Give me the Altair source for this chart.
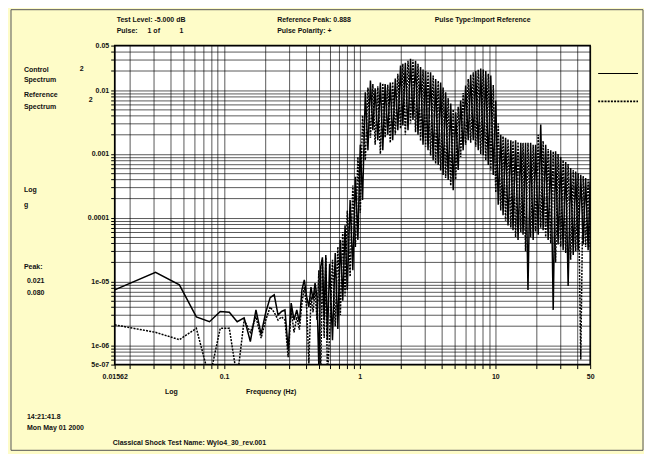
import altair as alt
import pandas as pd

# ---------------- data ----------------
freq_low = [0.015625, 0.03125, 0.046875, 0.0625, 0.078125, 0.09375, 0.109375, 0.125,
            0.140625, 0.15625, 0.171875, 0.1875, 0.203125, 0.21875, 0.234375, 0.25,
            0.265625, 0.28125, 0.296875, 0.3125, 0.328125, 0.34375, 0.359375, 0.375,
            0.390625, 0.40625, 0.421875, 0.4375, 0.453125, 0.46875, 0.484375, 0.5,
            0.515625, 0.53125, 0.546875, 0.5625, 0.578125]
control_low = [7.4e-6, 1.4e-5, 8.9e-6, 2.8e-6, 2.35e-6, 3.4e-6, 3.3e-6, 2.35e-6,
               2.7e-6, 1.15e-6, 3.6e-6, 1.5e-6, 3.3e-6, 5.6e-6, 6.2e-6, 3.0e-6,
               3.4e-6, 3.6e-6, 8.6e-7, 4.6e-6, 2.5e-6, 3.6e-6, 2.3e-6, 7.4e-6,
               1.06e-5, 5.8e-6, 4.0e-6, 8.2e-6, 5.2e-6, 9.5e-6, 5.8e-6, 4.5e-7,
               1.7e-5, 2.4e-5, 2.5e-6, 2.6e-5, 1.2e-6]
reference_low = [2.1e-6, 1.6e-6, 1.23e-6, 1.85e-6, 3e-7, 1.85e-6, 1.85e-6, 3e-7,
                 2.5e-6, 1.6e-6, 2.8e-6, 1.3e-6, 2.5e-6, 4.0e-6, 3.3e-6, 2.5e-6,
                 2.8e-6, 2.5e-6, 6.5e-7, 3.6e-6, 1.6e-6, 2.8e-6, 1.76e-6, 4.6e-6,
                 8.2e-6, 4.0e-6, 5.2e-7, 5.8e-6, 3.3e-6, 7.4e-6, 2.5e-6, 1.5e-5,
                 3e-7, 2.2e-5, 1.3e-6, 2.4e-5, 3e-7]

freq_high = [0.60, 0.63, 0.66, 0.69, 0.72, 0.75, 0.78, 0.81, 0.85, 0.89, 0.93, 0.97,
             1.01, 1.05, 1.10, 1.15, 1.20, 1.25, 1.30, 1.36, 1.42, 1.48, 1.54, 1.61,
             1.68, 1.75, 1.83, 1.91, 2.00, 2.08, 2.17, 2.27, 2.37, 2.47, 2.58, 2.69,
             2.81, 2.93, 3.06, 3.19, 3.33, 3.48, 3.63, 3.79, 3.95, 4.12, 4.30, 4.49,
             4.69, 4.89, 5.10, 5.32, 5.55, 5.79, 6.04, 6.31, 6.58, 6.87, 7.17, 7.48,
             7.80, 8.14, 8.50, 8.87, 9.25, 9.65, 10.07, 10.5, 10.96, 11.4, 11.9, 12.4,
             13.0, 13.5, 14.1, 14.7, 15.4, 16.0, 16.7, 17.4, 18.2, 19.0, 19.8, 20.7,
             21.6, 22.5, 23.5, 24.5, 25.6, 26.7, 27.8, 29.0, 30.3, 31.6, 33.0, 34.4,
             35.9, 37.5, 39.1, 40.8, 42.6, 44.4, 46.3, 48.3, 50.0]
control_high = [1.9e-5, 1.2e-6, 2.8e-5, 1.8e-6, 4.5e-5, 5e-6, 7.6e-5, 7.4e-6, 1.9e-4, 1.5e-5, 4.4e-4, 4.5e-5,
                1.4e-3, 1.9e-4, 9.3e-3, 1.14e-3, 0.0142, 2.35e-3, 0.0107, 1.64e-3, 0.0132, 1.14e-3, 0.0125, 2e-3,
                0.0132, 1.64e-3, 0.0152, 2.35e-3, 0.0244, 2.8e-3, 0.027, 2.35e-3, 0.031, 3.4e-3, 0.029, 2e-3,
                0.023, 1.4e-3, 0.020, 1.14e-3, 0.019, 8e-4, 0.015, 6.7e-4, 0.0132, 4.7e-4, 0.0093, 3.9e-4,
                6.2e-3, 2.7e-4, 4.5e-3, 5.6e-4, 6.9e-3, 1.14e-3, 0.0118, 1.64e-3, 0.0175, 1.64e-3, 0.020, 1.14e-3,
                0.0219, 9.6e-4, 0.020, 6.7e-4, 0.0170, 4.7e-4, 6.9e-3, 1.6e-4, 2e-3, 1.1e-4, 1.8e-3, 7.6e-5,
                1.64e-3, 6.4e-5, 1.64e-3, 4.5e-5, 1.5e-3, 5.4e-5, 1.5e-3, 7.4e-6, 1.5e-3, 4.5e-5, 1.4e-3, 5.4e-5,
                2.9e-3, 6.4e-5, 1.4e-3, 4.5e-5, 1.14e-3, 3.6e-6, 1.1e-3, 3.8e-5, 9e-4, 3.1e-5, 7.5e-4, 8.5e-6,
                6e-4, 2.6e-5, 5.3e-4, 3.1e-5, 4.7e-4, 3.8e-5, 4.2e-4, 3.1e-5, 3.7e-4]
reference_high = [1.5e-6, 2.2e-5, 2e-6, 3.5e-5, 3e-6, 6e-5, 6e-6, 1.3e-4, 1.2e-5, 3.2e-4, 3.5e-5, 9e-4,
                  1.2e-4, 4e-3, 8e-4, 0.011, 1.8e-3, 0.0125, 1.4e-3, 0.0115, 1.0e-3, 0.0128, 1.8e-3, 0.0122,
                  1.5e-3, 0.0135, 2e-3, 0.018, 2.5e-3, 0.026, 2e-3, 0.029, 3e-3, 0.030, 2.2e-3, 0.026,
                  1.6e-3, 0.021, 1.3e-3, 0.0195, 9.5e-4, 0.017, 7e-4, 0.014, 5.5e-4, 0.011, 4.2e-4, 7.5e-3,
                  3.2e-4, 5e-3, 4e-4, 5.5e-3, 9e-4, 9e-3, 1.4e-3, 0.015, 1.5e-3, 0.019, 1.3e-3, 0.021,
                  1.0e-3, 0.021, 8e-4, 0.018, 5.5e-4, 0.012, 2.5e-4, 3e-3, 1.3e-4, 1.9e-3, 9e-5, 1.7e-3,
                  7e-5, 1.6e-3, 5e-5, 1.55e-3, 6e-5, 1.5e-3, 3e-5, 1.5e-3, 5e-5, 1.4e-3, 6e-5, 2e-3,
                  7e-5, 1.6e-3, 5e-5, 1.2e-3, 4e-5, 1.1e-3, 2e-5, 1e-3, 3.5e-5, 8e-4, 2.8e-5, 7e-4,
                  2.2e-5, 5.6e-4, 3e-5, 5e-4, 6e-7, 4.5e-4, 3.5e-5, 4e-4, 3.5e-5]

x_grid = [0.01562, 0.02, 0.03, 0.04, 0.05, 0.06, 0.07, 0.08, 0.09,
          0.1, 0.2, 0.3, 0.4, 0.5, 0.6, 0.7, 0.8, 0.9,
          1, 2, 3, 4, 5, 6, 7, 8, 9, 10, 20, 30, 40, 50]
y_grid = [5e-7, 6e-7, 7e-7, 8e-7, 9e-7,
          1e-6, 2e-6, 3e-6, 4e-6, 5e-6, 6e-6, 7e-6, 8e-6, 9e-6,
          1e-5, 2e-5, 3e-5, 4e-5, 5e-5, 6e-5, 7e-5, 8e-5, 9e-5,
          1e-4, 2e-4, 3e-4, 4e-4, 5e-4, 6e-4, 7e-4, 8e-4, 9e-4,
          1e-3, 2e-3, 3e-3, 4e-3, 5e-3, 6e-3, 7e-3, 8e-3, 9e-3,
          1e-2, 2e-2, 3e-2, 4e-2, 5e-2]
x_labels = {0.01562: "0.01562", 0.1: "0.1", 1: "1", 10: "10", 50: "50"}
y_labels = {0.05: "0.05", 0.01: "0.01", 0.001: "0.001", 0.0001: "0.0001",
            1e-05: "1e-05", 1e-06: "1e-06", 5e-07: "5e-07"}

assert len(freq_low) == len(control_low) == len(reference_low)
assert len(freq_high) == len(control_high) == len(reference_high)

control = pd.DataFrame({"freq": freq_low + freq_high, "value": control_low + control_high})
reference = pd.DataFrame({"freq": freq_low + freq_high, "value": reference_low + reference_high})

FONT = "Liberation Sans"
W, H = 477, 320


def expr(mapping):
    s = "''"
    for k, v in mapping.items():
        s = f"datum.value == {k!r} ? '{v}' : ({s})"
    return s


xs = alt.Scale(type="log", domain=[0.01562, 50], nice=False)
ys = alt.Scale(type="log", domain=[5e-7, 0.05], nice=False)

x_enc = alt.X("freq:Q", scale=xs, axis=alt.Axis(values=x_grid, labelExpr=expr(x_labels), title=None,
                                               tickSize=4, labelPadding=4, labelFlush=False,
                                               labelOverlap=False))
y_enc = alt.Y("value:Q", scale=ys, axis=alt.Axis(values=y_grid, labelExpr=expr(y_labels), title=None,
                                                tickSize=4, labelPadding=2, labelOverlap=False))

ctrl_line = alt.Chart(control).mark_line(clip=True, color="black", strokeWidth=1.5).encode(x=x_enc, y=y_enc)
ref_line = alt.Chart(reference).mark_line(clip=True, color="black", strokeWidth=1.5,
                                          strokeDash=[2, 1.2]).encode(x="freq:Q", y="value:Q")

texts = [
    ("Test Level: -5.000 dB", 2, -26, "left"),
    ("Pulse:", 2, -15, "left"),
    ("1 of", 33, -15, "left"),
    ("1", 65, -15, "left"),
    ("Reference Peak: 0.888", 163, -26, "left"),
    ("Pulse Polarity: +", 163, -15, "left"),
    ("Pulse Type:Import Reference", 321, -26, "left"),
    ("Control", -91, 24, "left"),
    ("2", -35, 23, "left"),
    ("Spectrum", -91, 35, "left"),
    ("Reference", -91, 50, "left"),
    ("2", -26, 55, "left"),
    ("Spectrum", -91, 62, "left"),
    ("Log", -91, 145, "left"),
    ("g", -91, 160, "left"),
    ("Peak:", -91, 222, "left"),
    ("0.021", -88, 236, "left"),
    ("0.080", -88, 248, "left"),
    ("14:21:41.8", -88, 373, "left"),
    ("Mon May 01 2000", -88, 384, "left"),
    ("Log", 57, 348, "center"),
    ("Frequency (Hz)", 157, 348, "center"),
    ("Classical Shock Test Name: Wylo4_30_rev.001", -2, 399, "left"),
]
layers = [ctrl_line, ref_line]
for t, px, py, al in texts:
    layers.append(
        alt.Chart(pd.DataFrame({"t": [t]})).mark_text(
            align=al, baseline="middle", font=FONT, fontSize=7, fontWeight="bold", color="#111"
        ).encode(x=alt.value(px), y=alt.value(py), text="t:N")
    )

one = pd.DataFrame({"k": [0]})
# legend samples
layers.append(alt.Chart(one).mark_rule(color="black", strokeWidth=1.2).encode(
    x=alt.value(485), x2=alt.value(525), y=alt.value(28)))
layers.append(alt.Chart(one).mark_rule(color="black", strokeWidth=1.6, strokeDash=[2, 1.2]).encode(
    x=alt.value(485), x2=alt.value(525), y=alt.value(56)))
# outer frame
layers.append(alt.Chart(one).mark_rect(fillOpacity=0, stroke="#555", strokeWidth=1).encode(
    x=alt.value(-104), x2=alt.value(530), y=alt.value(-36), y2=alt.value(406)))

chart = alt.layer(*layers).properties(
    width=W, height=H,
    autosize=alt.AutoSizeParams(type="none"),
    padding={"left": 107, "top": 37, "right": 54, "bottom": 89},
    background="#FEFCC8",
).configure_view(
    fill="white", stroke="black", strokeWidth=1.5
).configure_axis(
    labelFont=FONT, labelFontSize=7, labelFontWeight="bold", labelColor="#111", tickColor="#000",
    domain=False, grid=True, gridColor="#000", gridOpacity=0.65, gridWidth=1,
)

chart.save("out.html", embed_options={"renderer": "svg", "actions": False})
